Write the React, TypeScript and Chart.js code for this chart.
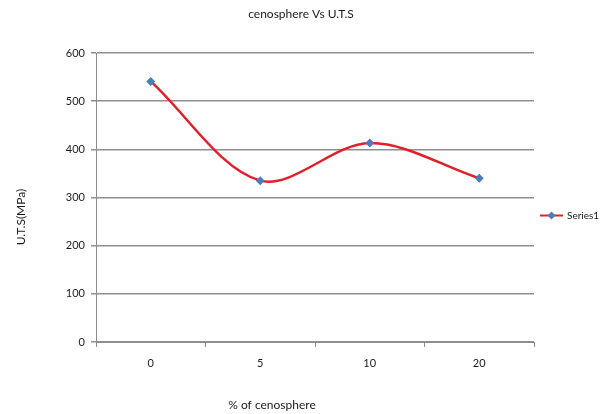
import React, { useEffect, useRef } from "react";
import { Chart, registerables } from "chart.js";

Chart.register(...registerables);

const categories = ["0", "5", "10", "20"];
const utsValues = [541, 335, 413, 340];
const yTicks = [0, 100, 200, 300, 400, 500, 600];
const titleText = "cenosphere Vs U.T.S";
const xTitle = "% of cenosphere";
const yTitle = "U.T.S(MPa)";
const seriesName = "Series1";

const FONT = "Lato, 'Open Sans', sans-serif";
const LINE_RED = "#e0202a";
const MARK_BLUE = "#4a7ebb";

const textPlugin = {
  id: "texts",
  afterDraw(chart: any) {
    const ctx = chart.ctx;
    const area = chart.chartArea;
    ctx.save();
    ctx.fillStyle = "#1a1a1a";
    ctx.textBaseline = "middle";
    ctx.textAlign = "center";
    ctx.font = `12px ${FONT}`;
    ctx.fillText(titleText, 301, 14);
    ctx.fillText(xTitle, 272, 405);
    ctx.save();
    ctx.translate(21, 217);
    ctx.rotate(-Math.PI / 2);
    ctx.fillText(yTitle, 0, 0);
    ctx.restore();
    // legend
    const ly = (area.top + area.bottom) / 2 + 18;
    ctx.strokeStyle = LINE_RED;
    ctx.lineWidth = 2;
    ctx.beginPath();
    ctx.moveTo(540, ly);
    ctx.lineTo(563, ly);
    ctx.stroke();
    ctx.fillStyle = MARK_BLUE;
    ctx.beginPath();
    ctx.moveTo(551.5, ly - 4);
    ctx.lineTo(555.5, ly);
    ctx.lineTo(551.5, ly + 4);
    ctx.lineTo(547.5, ly);
    ctx.closePath();
    ctx.fill();
    ctx.fillStyle = "#1a1a1a";
    ctx.textAlign = "left";
    ctx.font = `10px ${FONT}`;
    ctx.fillText(seriesName, 567, ly);
    ctx.restore();
  },
};

export default function App() {
  const ref = useRef<HTMLCanvasElement>(null);
  useEffect(() => {
    if (!ref.current) return;
    const chart = new Chart(ref.current, {
      type: "line",
      data: {
        labels: categories,
        datasets: [
          {
            label: seriesName,
            data: utsValues,
            borderColor: LINE_RED,
            borderWidth: 2.5,
            tension: 0.33,
            pointStyle: "rectRot",
            pointRadius: 4.5,
            pointBackgroundColor: MARK_BLUE,
            pointBorderColor: MARK_BLUE,
            pointBorderWidth: 0,
            fill: false,
          },
        ],
      },
      options: {
        animation: false,
        responsive: true,
        maintainAspectRatio: false,
        layout: { padding: { left: 0, top: 53, right: 72, bottom: 42 } },
        plugins: {
          legend: { display: false },
          title: { display: false },
          tooltip: { enabled: false },
        },
        scales: {
          x: {
            type: "category",
            offset: true,
            afterFit: (s: any) => {
              s.height = 30;
            },
            grid: {
              offset: true,
              drawOnChartArea: false,
              drawTicks: true,
              tickLength: 5,
              color: "#8c8c8c",
            },
            border: { color: "#8c8c8c", width: 1 },
            ticks: {
              color: "#1a1a1a",
              font: { family: FONT, size: 11 },
              padding: 10,
            },
          },
          y: {
            min: 0,
            max: 600,
            afterFit: (s: any) => {
              s.width = 96;
            },
            afterBuildTicks: (s: any) => {
              s.ticks = yTicks.map((v) => ({ value: v }));
            },
            grid: {
              color: "#8f8f8f",
              lineWidth: 1.5,
              tickLength: 5,
            },
            border: { color: "#8c8c8c", width: 1 },
            ticks: {
              color: "#1a1a1a",
              font: { family: FONT, size: 11 },
              padding: 6,
            },
          },
        },
      },
      plugins: [textPlugin],
    });
    return () => chart.destroy();
  }, []);
  return (
    <div style={{ position: "fixed", left: 0, top: 0, width: 606, height: 414, background: "#fff" }}>
      <canvas ref={ref} />
    </div>
  );
}
